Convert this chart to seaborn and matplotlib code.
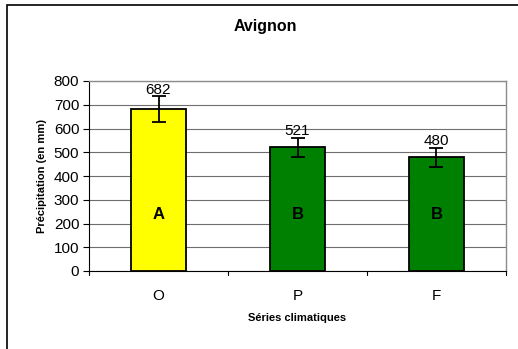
import matplotlib
matplotlib.use("Agg")
import matplotlib.pyplot as plt
from matplotlib.patches import Rectangle
import seaborn as sns
import pandas as pd

categories = ["O", "P", "F"]
values = [682, 521, 480]
errors = [55, 41, 40]
groups = ["A", "B", "B"]
colors = ["#FFFF00", "#008000", "#008000"]

sns.set_style("white", {"text.color": "black", "axes.labelcolor": "black",
                        "xtick.color": "black", "ytick.color": "black"})
plt.rcParams["font.family"] = ["Liberation Sans", "DejaVu Sans"]

df = pd.DataFrame({"serie": categories, "precip": values})

W, H = 518, 349
fig = plt.figure(figsize=(W / 100, H / 100), dpi=100)
ax = fig.add_axes([89 / W, 1 - 271 / H, (506 - 89) / W, (271 - 81) / H])

sns.barplot(data=df, x="serie", y="precip", hue="serie", palette=colors,
            saturation=1, width=0.4, edgecolor="black", linewidth=1.3,
            legend=False, errorbar=None, ax=ax, zorder=3)

ax.errorbar(range(len(categories)), values, yerr=errors, fmt="none",
            ecolor="black", elinewidth=1.3, capsize=5, capthick=1.3, zorder=4)

for i, (v, e, g) in enumerate(zip(values, errors, groups)):
    ax.text(i, v + e - 4, str(v), ha="center", va="bottom", fontsize=11,
            color="black", zorder=5)
    ax.text(i, 236, g, ha="center", va="center", fontsize=12,
            fontweight="bold", color="black", zorder=5)

ax.set_xlim(-0.5, 2.5)
ax.set_ylim(0, 800)
ax.set_yticks(range(0, 801, 100))
ax.yaxis.grid(True, color="#6e6e6e", linewidth=0.8, zorder=0)
ax.set_axisbelow(True)

for s in ["top", "right"]:
    ax.spines[s].set_color("#8c8c8c")
    ax.spines[s].set_linewidth(1.0)
for s in ["left", "bottom"]:
    ax.spines[s].set_color("black")
    ax.spines[s].set_linewidth(0.8)

ax.tick_params(axis="y", direction="out", length=4, width=0.8,
               labelsize=11, pad=3, left=True, colors="black")
ax.set_xticks([0, 1, 2])
ax.set_xticklabels(categories, fontsize=11)
ax.tick_params(axis="x", length=0, pad=13, colors="black")
for xb in [-0.5, 0.5, 1.5, 2.5]:
    ax.plot([xb, xb], [0, -18], color="black", linewidth=0.8, clip_on=False)

ax.set_xlabel("Séries climatiques", fontsize=8, fontweight="bold", labelpad=7,
              color="black")
ax.set_ylabel("Précipitation (en mm)", fontsize=8, fontweight="bold", labelpad=5,
              color="black")
fig.text(265 / W, 1 - 26 / H, "Avignon", ha="center", va="center",
         fontsize=11.5, fontweight="bold", color="black")

fig.patches.append(Rectangle((7 / W, -0.2), 1.5, 1.2 - 5 / H, transform=fig.transFigure,
                             fill=False, edgecolor="black", linewidth=1.2))

fig.savefig("out.png", dpi=100, facecolor="white")
